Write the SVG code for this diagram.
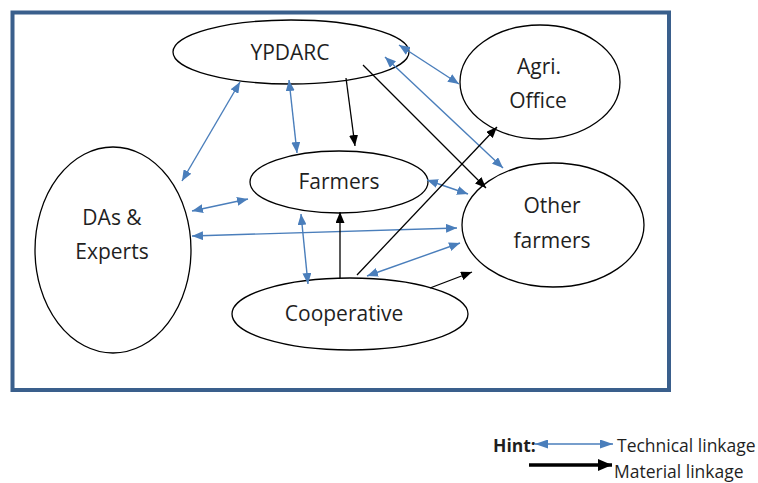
<svg xmlns="http://www.w3.org/2000/svg" width="758" height="483" viewBox="0 0 758 483">
  <style>
    .node { fill: #ffffff; stroke: #000000; stroke-width: 1.3; }
    .label { font-family: "Open Sans", "Noto Sans", "Liberation Sans", sans-serif; font-size: 21px; fill: #1f1f1f; text-anchor: middle; }
    .tech { stroke: #4a7ebb; stroke-width: 1.4; fill: none; marker-start: url(#blueHead); marker-end: url(#blueHead); }
    .mat { stroke: #000000; stroke-width: 1.3; fill: none; marker-end: url(#blackHead); }
    .legend { font-family: "Open Sans", "Noto Sans", "Liberation Sans", sans-serif; font-size: 17.5px; fill: #1f1f1f; }
  </style>
  <defs>
    <marker id="blueHead" viewBox="0 0 11 9" refX="11" refY="4.5" markerWidth="11" markerHeight="9" markerUnits="userSpaceOnUse" orient="auto-start-reverse">
      <path d="M0,0 L11,4.5 L0,9 z" fill="#4a7ebb"/>
    </marker>
    <marker id="blackHead" viewBox="0 0 11 9" refX="11" refY="4.5" markerWidth="11" markerHeight="9" markerUnits="userSpaceOnUse" orient="auto">
      <path d="M0,0 L11,4.5 L0,9 z" fill="#000000"/>
    </marker>
    <marker id="blueHeadBig" viewBox="0 0 13 9" refX="13" refY="4.5" markerWidth="13" markerHeight="9" markerUnits="userSpaceOnUse" orient="auto-start-reverse">
      <path d="M0,0 L13,4.5 L0,9 z" fill="#4a7ebb"/>
    </marker>
    <marker id="blackHeadBig" viewBox="0 0 14 12" refX="14" refY="6" markerWidth="14" markerHeight="12" markerUnits="userSpaceOnUse" orient="auto">
      <path d="M0,0 L14,6 L0,12 z" fill="#000000"/>
    </marker>
  </defs>

  <rect x="0" y="0" width="758" height="483" fill="#ffffff"/>

  <!-- outer frame -->
  <rect x="12.5" y="12.5" width="656.5" height="377.5" fill="none" stroke="#3a5f8c" stroke-width="4"/>

  <!-- nodes -->
  <g id="ypdarc">
    <ellipse class="node" cx="291" cy="52" rx="118" ry="32"/>
    <text class="label" x="290" y="60">YPDARC</text>
  </g>
  <g id="agri-office">
    <ellipse class="node" cx="540" cy="82" rx="80" ry="57"/>
    <text class="label" x="539" y="74">Agri.</text>
    <text class="label" x="538" y="108">Office</text>
  </g>
  <g id="farmers">
    <ellipse class="node" cx="339" cy="182" rx="89" ry="31"/>
    <text class="label" x="339" y="189">Farmers</text>
  </g>
  <g id="other-farmers">
    <ellipse class="node" cx="553" cy="225" rx="91" ry="62"/>
    <text class="label" x="552" y="213">Other</text>
    <text class="label" x="552" y="248">farmers</text>
  </g>
  <g id="das-experts">
    <ellipse class="node" cx="113" cy="250" rx="78" ry="103"/>
    <text class="label" x="112" y="225">DAs &amp;</text>
    <text class="label" x="112" y="259">Experts</text>
  </g>
  <g id="cooperative">
    <ellipse class="node" cx="350" cy="314" rx="118" ry="36"/>
    <text class="label" x="344" y="321">Cooperative</text>
  </g>

  <!-- connectors -->
  <g id="connectors">
    <!-- technical linkages (two-way) -->
    <line class="tech" x1="240" y1="82" x2="182" y2="181"/>
    <line class="tech" x1="289" y1="80" x2="297" y2="153"/>
    <line class="tech" x1="399" y1="45" x2="459" y2="84"/>
    <line class="tech" x1="385" y1="57" x2="503" y2="168"/>
    <line class="tech" x1="192" y1="211" x2="248" y2="199"/>
    <line class="tech" x1="192" y1="236" x2="457" y2="228"/>
    <line class="tech" x1="427" y1="180" x2="468" y2="194"/>
    <line class="tech" x1="301" y1="214" x2="308" y2="284"/>
    <line class="tech" x1="367" y1="276" x2="460" y2="243"/>
    <!-- material linkages (one-way) -->
    <line class="mat" x1="346" y1="78" x2="355" y2="146"/>
    <line class="mat" x1="363" y1="65" x2="486" y2="188"/>
    <line class="mat" x1="340" y1="278" x2="340" y2="212"/>
    <line class="mat" x1="357" y1="275" x2="497" y2="127"/>
    <line class="mat" x1="430" y1="288" x2="472" y2="272"/>
  </g>

  <!-- key -->
  <g id="key">
    <text class="legend" x="493" y="452" font-weight="bold" font-size="15">Hint:</text>
    <line x1="535" y1="444" x2="613" y2="444" stroke="#4a7ebb" stroke-width="1.5" marker-start="url(#blueHeadBig)" marker-end="url(#blueHeadBig)"/>
    <text class="legend" x="617" y="452">Technical linkage</text>
    <line x1="529" y1="465" x2="612" y2="465" stroke="#000000" stroke-width="3.5" marker-end="url(#blackHeadBig)"/>
    <text class="legend" x="614" y="478">Material linkage</text>
  </g>
</svg>
